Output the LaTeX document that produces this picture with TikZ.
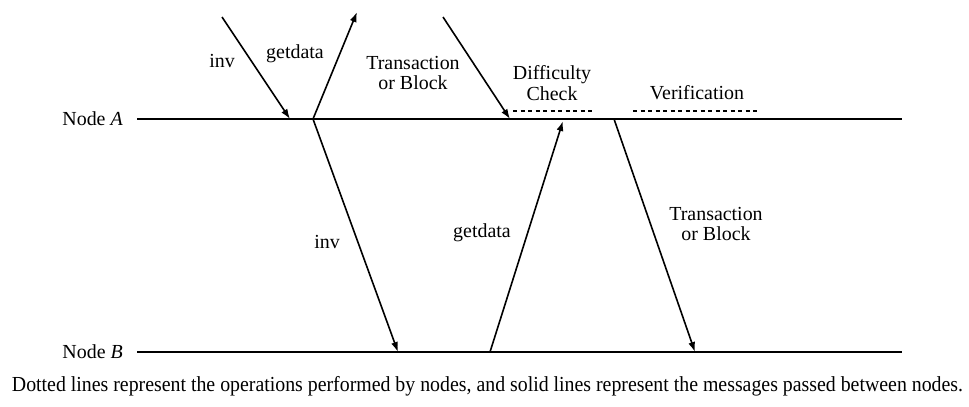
\documentclass[tikz,border=0pt]{standalone}
\usepackage{fontspec}
\setmainfont{Liberation Serif}
\usetikzlibrary{arrows.meta}
\tikzset{
  lbl/.style={inner sep=0pt, align=center, font=\fontsize{20}{20.5}\selectfont},
  timeline/.style={line width=1.8bp},
  msg/.style={line width=1.6bp, -{Latex[length=10bp,width=7bp]}},
  op/.style={line width=1.8bp, dash pattern=on 4bp off 3.5bp},
}
\begin{document}
\begin{tikzpicture}[x=1bp,y=-1bp]
  \useasboundingbox (0,0) rectangle (969,406);

  % timelines of the two nodes
  \node[lbl, anchor=east] (labA) at (123,119) {Node \textit{A}};
  \node[lbl, anchor=east] (labB) at (123,352) {Node \textit{B}};
  \coordinate (a0) at (137,119);
  \coordinate (a1) at (902,119);
  \coordinate (b0) at (137,352);
  \coordinate (b1) at (902,352);
  \draw[timeline] (a0) -- (a1);
  \draw[timeline] (b0) -- (b1);

  % message end points
  \coordinate (inIn)   at (222,17);
  \coordinate (inAt)   at (290,119);
  \coordinate (gdOut)  at (357,12);
  \coordinate (sendA)  at (313,119);
  \coordinate (txIn)   at (443,17);
  \coordinate (txAt)   at (510,119);
  \coordinate (invB)   at (398,352);
  \coordinate (gdB)    at (490,352);
  \coordinate (gdA)    at (563,121);
  \coordinate (txA)    at (614,119);
  \coordinate (txB)    at (695,352);

  % messages
  \draw[msg] (inIn) -- (inAt);
  \draw[msg] (sendA) -- (gdOut);
  \draw[msg] (txIn) -- (txAt);
  \draw[msg] (sendA) -- (invB);
  \draw[msg] (gdB) -- (gdA);
  \draw[msg] (txA) -- (txB);

  % operations performed by node A
  \coordinate (dc0) at (513,111);
  \coordinate (dc1) at (595,111);
  \coordinate (vf0) at (633,111);
  \coordinate (vf1) at (758,111);
  \draw[op] (dc0) -- (dc1);
  \draw[op] (vf0) -- (vf1);

  % labels
  \node[lbl] (tInv)  at (222,61) {inv};
  \node[lbl] (tGd)   at (295,54) {getdata};
  \node[lbl] (tTx)   at (413,73) {Transaction\\or Block};
  \node[lbl] (tDc)   at (552,83) {Difficulty\\Check};
  \node[lbl] (tVf)   at (697,93) {Verification};
  \node[lbl] (tInv2) at (327,242) {inv};
  \node[lbl] (tGd2)  at (482,233) {getdata};
  \node[lbl] (tTx2)  at (716,224) {Transaction\\or Block};

  % caption
  \node[inner sep=0pt, anchor=base] (cap) at (487.5,391)
    {\scalebox{1}[1.08]{\resizebox{951bp}{!}{Dotted lines represent the operations performed by nodes, and solid lines represent the messages passed between nodes.}}};
\end{tikzpicture}
\end{document}
